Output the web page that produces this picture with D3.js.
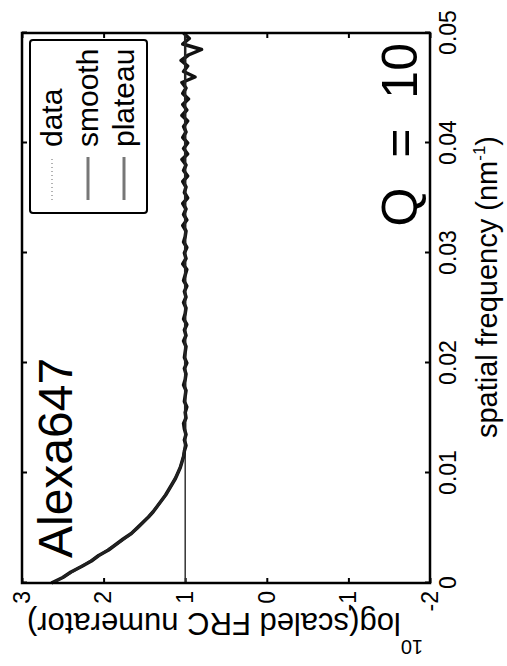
<!DOCTYPE html>
<html>
<head>
<meta charset="utf-8">
<script src="https://cdn.jsdelivr.net/npm/d3@7"></script>
<style>
  body { margin: 0; background: #fff; }
  text { font-family: 'Liberation Sans', Arial, sans-serif; fill: #000; }
</style>
</head>
<body>
<div id="chart"></div>
<script>
// axis ticks
const freqTicks = [0, 0.01, 0.02, 0.03, 0.04, 0.05]
const valueTicks = [-2, -1, 0, 1, 2, 3]

// smooth fit
const smoothFreq = [0, 0.0005, 0.001, 0.002, 0.003, 0.004, 0.005, 0.006, 0.007, 0.008, 0.009, 0.010, 0.011, 0.012, 0.013, 0.02, 0.03, 0.04, 0.05]
const smoothVal = [2.62, 2.50, 2.39, 2.16, 1.95, 1.75, 1.58, 1.45, 1.34, 1.24, 1.16, 1.09, 1.04, 1.01, 1.00, 1.00, 1.00, 1.00, 1.00]

// raw data, one sample every 0.0005 nm^-1
const dataStep = 0.0005
const dataVal = [
  2.64, 2.50, 2.40, 2.27, 2.15, 2.06, 1.94, 1.85, 1.76, 1.66,
  1.59, 1.52, 1.45, 1.39, 1.34, 1.29, 1.24, 1.20, 1.16, 1.12,
  1.09, 1.06, 1.04, 1.02, 1.01, 0.99, 1.01, 0.99, 1.01, 1.02,
  0.99, 1.00, 0.98, 1.01, 1.00, 0.99, 1.02, 1.00, 0.99, 1.01,
  0.98, 1.01, 1.00, 0.99, 1.02, 0.99, 1.01, 0.98, 1.02, 1.00,
  0.99, 1.02, 0.99, 1.01, 0.98, 1.02, 1.00, 0.98, 1.03, 0.99,
  1.01, 0.98, 1.02, 1.00, 0.99, 1.03, 0.98, 1.02, 0.99, 1.03,
  0.97, 1.01, 0.99, 1.03, 0.97, 1.02, 0.99, 1.04, 0.97, 1.02,
  0.97, 1.03, 0.99, 1.02, 0.97, 1.04, 0.98, 1.03, 0.96, 1.03,
  0.99, 1.04, 0.88, 1.02, 0.97, 1.05, 0.96, 0.80, 1.03, 0.95,
  1.02
]

const plateauVal = 1
const legendLabels = ['data', 'smooth', 'plateau']

const W = 550
const H = 408

const svg = d3.select('#chart')
  .append('svg')
  .attr('width', 507)
  .attr('height', 666)

// the whole figure is turned a quarter turn anticlockwise
const g = svg.append('g').attr('transform', 'translate(22,583) rotate(-90)')

const x = d3.scaleLinear().domain([0, 0.05]).range([0, W])
const y = d3.scaleLinear().domain([-2, 3]).range([H, 0])

const fmt = (d) => String(d)

function styleAxis(sel) {
  sel.select('.domain').remove()
  sel.selectAll('.tick line').attr('stroke', '#000').attr('stroke-width', 2)
  sel.selectAll('.tick text').attr('font-size', 23).attr('fill', '#000')
}

g.append('g')
  .attr('transform', `translate(0,${H})`)
  .call(d3.axisBottom(x).tickValues(freqTicks).tickFormat(fmt).tickSizeInner(-5).tickSizeOuter(0).tickPadding(10))
  .call(styleAxis)

g.append('g')
  .call(d3.axisTop(x).tickValues(freqTicks).tickFormat('').tickSizeInner(-5).tickSizeOuter(0))
  .call(styleAxis)

g.append('g')
  .call(d3.axisLeft(y).tickValues(valueTicks).tickFormat(fmt).tickSizeInner(-5).tickSizeOuter(0).tickPadding(8))
  .call(styleAxis)

g.append('g')
  .attr('transform', `translate(${W},0)`)
  .call(d3.axisRight(y).tickValues(valueTicks).tickFormat('').tickSizeInner(-5).tickSizeOuter(0))
  .call(styleAxis)

const line = d3.line().x((d) => x(d[0])).y((d) => y(d[1]))

const dataPts = dataVal.map((v, i) => [i * dataStep, v])
const smoothPts = smoothFreq.map((f, i) => [f, smoothVal[i]])

g.append('path')
  .datum([[0, plateauVal], [0.05, plateauVal]])
  .attr('d', line)
  .attr('fill', 'none')
  .attr('stroke', '#333')
  .attr('stroke-width', 1.5)

g.append('path')
  .datum(dataPts)
  .attr('d', line)
  .attr('fill', 'none')
  .attr('stroke', '#111')
  .attr('stroke-width', 3.5)
  .attr('stroke-linejoin', 'round')

g.append('path')
  .datum(smoothPts)
  .attr('d', d3.line().x((d) => x(d[0])).y((d) => y(d[1])).curve(d3.curveMonotoneX))
  .attr('fill', 'none')
  .attr('stroke', '#222')
  .attr('stroke-width', 2.5)

// frame
g.append('rect')
  .attr('width', W)
  .attr('height', H)
  .attr('fill', 'none')
  .attr('stroke', '#000')
  .attr('stroke-width', 2.5)

// legend
const leg = g.append('g').attr('transform', 'translate(370,8)')
leg.append('rect')
  .attr('width', 173)
  .attr('height', 117)
  .attr('rx', 3)
  .attr('fill', '#fff')
  .attr('stroke', '#000')
  .attr('stroke-width', 2)

legendLabels.forEach((name, i) => {
  const row = leg.append('g').attr('transform', `translate(0,${22 + i * 36})`)
  row.append('line')
    .attr('x1', 13).attr('x2', 56)
    .attr('stroke', name === 'data' ? '#999' : '#777')
    .attr('stroke-width', name === 'data' ? 1.5 : 3)
    .attr('stroke-dasharray', name === 'data' ? '1,3' : null)
  row.append('text')
    .attr('x', 66)
    .attr('y', 10)
    .attr('font-size', 30)
    .text(name)
})

g.append('text')
  .attr('x', 25)
  .attr('y', 50)
  .attr('font-size', 48)
  .text('Alexa647')

g.append('text')
  .attr('x', 540)
  .attr('y', 395)
  .attr('font-size', 50)
  .attr('text-anchor', 'end')
  .attr('word-spacing', 16)
  .text('Q = 10')

// axis labels
const xl = g.append('text')
  .attr('x', 296)
  .attr('y', 475)
  .attr('font-size', 29)
  .attr('text-anchor', 'middle')
xl.append('tspan').text('spatial frequency (nm')
xl.append('tspan').attr('font-size', 17).attr('dy', -12).text('-1')
xl.append('tspan').attr('dy', 12).text(')')

const yl = g.append('text')
  .attr('transform', `translate(-30,${H / 2 - 1}) rotate(-90)`)
  .attr('font-size', 31)
  .attr('text-anchor', 'middle')
yl.append('tspan').attr('font-size', 20).attr('dy', -27).text('10')
yl.append('tspan').attr('dy', 27).text('log(scaled FRC numerator)')
</script>
</body>
</html>
